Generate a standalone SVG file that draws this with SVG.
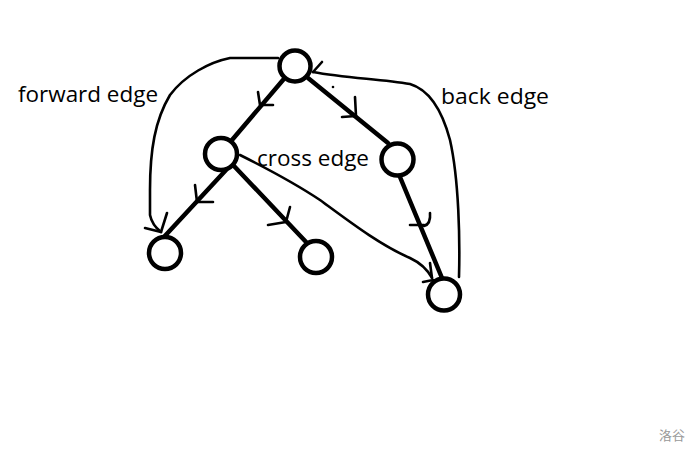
<svg xmlns="http://www.w3.org/2000/svg" width="700" height="455" viewBox="0 0 700 455">
<style>
.node{fill:#fff;stroke:#000;stroke-width:4.5}
.tree{fill:none;stroke:#000;stroke-width:4.5;stroke-linecap:round}
.thin{fill:none;stroke:#000;stroke-width:2.6;stroke-linecap:round;stroke-linejoin:round}
.lbl{font-family:"Open Sans","Noto Sans",sans-serif;font-size:21px;fill:#000}
</style>
<rect width="700" height="455" fill="#fff"/>
<g id="connectors">
<path class="tree" d="M283,80 L232,140"/>
<path class="thin" d="M258,92 L260,105 L273,105"/>
<path class="tree" d="M308,78 L388,143"/>
<path class="thin" d="M355,97 L356,116 L342,117"/>
<path class="tree" d="M226,170 L163,238"/>
<path class="thin" d="M195,185 L197,202 L213,202"/>
<path class="tree" d="M234,166 L307,243"/>
<path class="thin" d="M290,207 L286,222 L268,225"/>
<path class="tree" d="M400,177 L442,278"/>
<path class="thin" d="M430,213 Q431,224 424,226 M410,225 L424,225"/>
<path class="thin" d="M278,58 L230,58 C210,62 185,75 170,95 C155,120 150,150 150,190 L150,215 Q152,225 161,232"/>
<path class="thin" d="M145,228 L161,232 M167,213 L161,232"/>
<path class="thin" d="M459,277 C460,240 459,180 450,140 C442,110 430,90 410,84 C380,79 345,78 313,72"/>
<path class="thin" d="M322,62 L313,72"/>
<path class="thin" d="M240,155 C260,165 290,180 320,200 C350,222 380,245 410,258 Q425,265 432,278"/>
<path class="thin" d="M430,263 L432,278 M423,282 L433,280"/>
<circle cx="333" cy="87" r="1.3" fill="#000"/>
</g>
<g id="root"><circle class="node" cx="295" cy="66" r="15.5"/></g>
<g id="leftmid"><circle class="node" cx="221" cy="154" r="16"/></g>
<g id="rightmid"><circle class="node" cx="397.5" cy="159.5" r="16"/></g>
<g id="bottomleft"><circle class="node" cx="165" cy="253" r="16"/></g>
<g id="bottommid"><circle class="node" cx="316" cy="257" r="16"/></g>
<g id="bottomright"><circle class="node" cx="444" cy="294.5" r="16"/></g>
<g id="labels">
<text class="lbl" x="18" y="102" textLength="140" lengthAdjust="spacingAndGlyphs">forward edge</text>
<text class="lbl" x="441" y="104" textLength="108" lengthAdjust="spacingAndGlyphs">back edge</text>
<text class="lbl" x="257" y="166" textLength="112" lengthAdjust="spacingAndGlyphs">cross edge</text>
<text x="659" y="440" font-family="'Noto Sans CJK SC',sans-serif" font-size="13" fill="#999">洛谷</text>
</g>
</svg>
